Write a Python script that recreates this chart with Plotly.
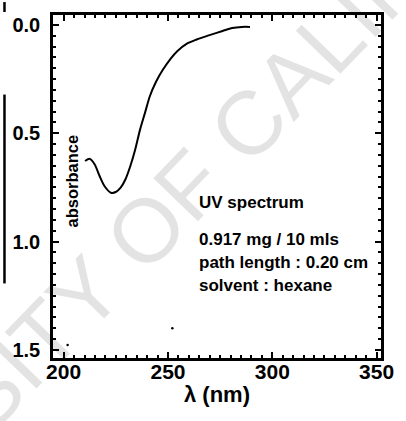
import plotly.graph_objects as go

# ---- data ----
wavelength_nm = [210.25, 212.57, 214.9, 217.23, 219.55, 222.67, 224.99, 227.32, 229.64, 231.97,
                 234.3, 236.62, 238.95, 241.27, 244.34, 247.46, 251.32, 254.43, 259.09, 263.74,
                 269.93, 276.16, 280.81, 285.46, 289.3]
absorbance = [0.628, 0.618, 0.644, 0.697, 0.743, 0.774, 0.771, 0.751, 0.712, 0.651,
              0.575, 0.483, 0.407, 0.330, 0.261, 0.208, 0.155, 0.121, 0.086, 0.067,
              0.047, 0.028, 0.014, 0.009, 0.009]

x_ticks = [200, 250, 300, 350]
y_ticks = [0.0, 0.5, 1.0, 1.5]
y_tick_text = ["0.0", "0.5", "1.0", "1.5"]

speck_x = [252.1, 201.9, 312.6, 355.8, 355.8, 358.1]
speck_y = [1.40, 1.477, 1.578, 1.28, 1.33, 0.87]

info_lines = ["UV spectrum", "0.917 mg / 10 mls", "path length : 0.20 cm", "solvent : hexane"]

FONT = "Liberation Sans, Arial, Helvetica, sans-serif"

fig = go.Figure()
fig.add_trace(go.Scatter(x=wavelength_nm, y=absorbance, mode="lines",
                         line=dict(color="black", width=2, shape="spline", smoothing=0.8),
                         hoverinfo="skip", showlegend=False))
fig.add_trace(go.Scatter(x=speck_x, y=speck_y, mode="markers", cliponaxis=False,
                         marker=dict(color="black", size=2.5), hoverinfo="skip", showlegend=False))

axis_common = dict(showgrid=False, zeroline=False, showline=True, linecolor="black",
                   linewidth=2.5, mirror="ticks", ticks="inside", ticklen=6, tickwidth=2,
                   tickcolor="black")

fig.update_xaxes(range=[194.9, 352.1], tickvals=x_ticks,
                 tickfont=dict(family=FONT, size=21, color="black", weight="bold"),
                 ticklabelstandoff=-7,
                 minor=dict(dtick=5, tick0=200, ticks="inside", ticklen=3, tickwidth=1.5,
                            tickcolor="black"),
                 **axis_common)
fig.update_yaxes(range=[1.537, -0.046], tickvals=y_ticks, ticktext=y_tick_text,
                 tickfont=dict(family=FONT, size=20, color="black", weight="bold"),
                 ticklabelstandoff=6,
                 minor=dict(dtick=0.05, tick0=0, ticks="inside", ticklen=3, tickwidth=1.5,
                            tickcolor="black"),
                 **axis_common)

annotations = []
# x-axis title
annotations.append(dict(text="λ (nm)", xref="paper", yref="paper", x=0.5, y=-0.107,
                        xanchor="center", yanchor="middle", showarrow=False,
                        font=dict(family=FONT, size=22, color="black", weight="bold")))
# rotated y label inside the plot
annotations.append(dict(text="absorbance", xref="paper", yref="paper", x=(72 - 52) / 338,
                        y=(358 - 180) / 345, xanchor="center", yanchor="middle",
                        textangle=-90, showarrow=False,
                        font=dict(family=FONT, size=16.5, color="black", weight="bold")))
# information block
info_y_px = [202, 239, 262, 285]
for txt, ypx in zip(info_lines, info_y_px):
    annotations.append(dict(text=txt, xref="paper", yref="paper", x=(200 - 52) / 338,
                            y=(358 - ypx) / 345, xanchor="left", yanchor="middle",
                            showarrow=False,
                            font=dict(family=FONT, size=17, color="black", weight="bold")))
# watermark
annotations.append(dict(text="UNIVERSITY OF CALIFORNIA", xref="paper", yref="paper",
                        x=(168 - 52) / 338, y=(358 - 209) / 345, xanchor="center",
                        yanchor="middle", textangle=-46, showarrow=False,
                        font=dict(family=FONT, size=90, color="rgba(0,0,0,0.11)")))

shapes = [
    dict(type="line", xref="paper", yref="paper", x0=(2 - 52) / 338, x1=(2 - 52) / 338,
         y0=(358 - 0) / 345, y1=(358 - 10) / 345, line=dict(color="black", width=2.5)),
    dict(type="line", xref="paper", yref="paper", x0=(2 - 52) / 338, x1=(2 - 52) / 338,
         y0=(358 - 93) / 345, y1=(358 - 283) / 345, line=dict(color="black", width=2.5)),
]

fig.update_layout(width=406, height=421, margin=dict(l=52, r=16, t=13, b=63),
                  paper_bgcolor="white", plot_bgcolor="white", showlegend=False,
                  annotations=annotations, shapes=shapes)

fig.write_html("out.html")
